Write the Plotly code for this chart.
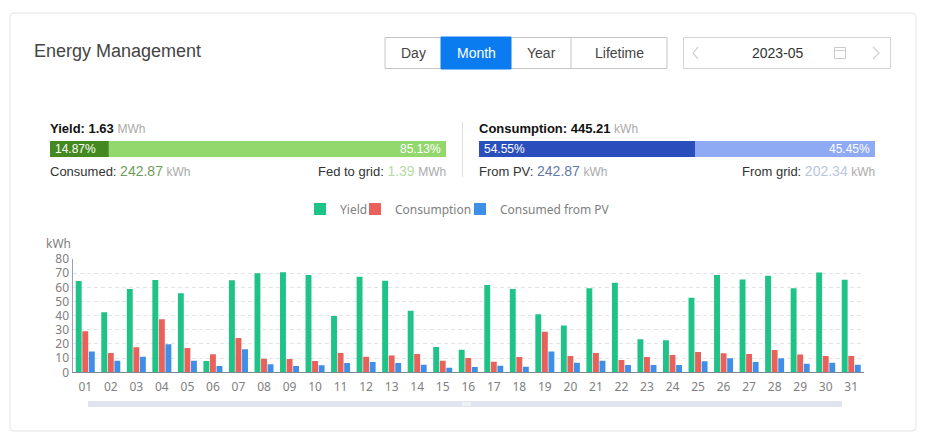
import plotly.graph_objects as go

W, H = 926, 446

days = [f"{d:02d}" for d in range(1, 32)]
yield_kwh = [64.5, 42.4, 58.8, 65.2, 55.8, 8.0, 65.0, 70.0, 70.6, 68.7, 39.8, 67.5, 64.7, 43.5, 17.9, 16.0,
             61.6, 58.8, 41.0, 33.0, 59.3, 63.3, 23.3, 22.6, 52.7, 68.7, 65.6, 68.2, 59.3, 70.4, 65.4]
consumption_kwh = [29.0, 13.6, 17.6, 37.4, 17.2, 12.7, 24.2, 9.6, 9.4, 8.0, 13.6, 11.0, 11.8, 12.9, 8.2, 10.1,
                   7.5, 10.8, 28.7, 11.5, 13.6, 8.7, 10.8, 12.2, 14.3, 13.4, 12.9, 15.8, 12.5, 11.5, 11.5]
consumed_pv_kwh = [14.6, 8.2, 11.0, 19.8, 8.2, 4.5, 16.2, 5.6, 4.5, 4.9, 6.6, 7.3, 6.6, 5.4, 3.3, 3.8,
                   4.7, 4.0, 14.6, 6.8, 8.2, 5.2, 5.2, 5.2, 7.8, 9.9, 7.3, 9.9, 6.1, 6.8, 5.4]
yield_shares = [14.87, 85.13]
consumption_shares = [54.55, 45.45]
buttons = ["Day", "Month", "Year", "Lifetime"]

FONT = "Liberation Sans"
CHART_FONT = "Noto Sans"


def px(x):
    return x / W


def py(y):
    return 1 - y / H


fig = go.Figure()

for name, vals, col, leg in [("Yield", yield_kwh, "#1fc287", "legend"),
                             ("Consumption", consumption_kwh, "#e8615a", "legend2"),
                             ("Consumed from PV", consumed_pv_kwh, "#3f8fe8", "legend3")]:
    fig.add_trace(go.Bar(x=days, y=vals, name=name, legend=leg, marker=dict(color=col, line_width=0)))


def share_bar(values, colors, xaxis, yaxis):
    base = 0
    for v, c in zip(values, colors):
        fig.add_trace(go.Bar(x=[v], y=[""], base=base, orientation="h", xaxis=xaxis, yaxis=yaxis,
                             marker=dict(color=c, line_width=0), width=1, offsetgroup="s",
                             showlegend=False, hoverinfo="skip"))
        base += v


share_bar(yield_shares, ["#43891f", "#93d86d"], "x2", "y2")
share_bar(consumption_shares, ["#2a4fbd", "#8faaf5"], "x3", "y3")

shapes = []
annots = []


def rect(x0, y0, x1, y1, fill="rgba(0,0,0,0)", line="#d4d4d4", lw=1, layer="below"):
    shapes.append(dict(type="rect", xref="paper", yref="paper", x0=px(x0), x1=px(x1), y0=py(y0), y1=py(y1),
                       fillcolor=fill, line=dict(color=line, width=lw), layer=layer))


def poly(pts, line="#d0d0d0", lw=1.2):
    d = "M" + " L".join(f"{px(a):.5f},{py(b):.5f}" for a, b in pts)
    shapes.append(dict(type="path", xref="paper", yref="paper", path=d, line=dict(color=line, width=lw)))


def text(x, y, s, size=12, color="#333333", anchor="left", family=FONT):
    annots.append(dict(xref="paper", yref="paper", x=px(x), y=py(y), text=s, showarrow=False, xanchor=anchor,
                       yanchor="middle", font=dict(size=size, color=color, family=family),
                       borderpad=0, borderwidth=0))


def unit(s):
    return f'<span style="font-size:12px;color:#aaaaaa">{s}</span>'


def val(s, color):
    return f'<span style="font-size:14px;color:{color}">{s}</span>'


# card
r = 4
x0, y0, x1, y1 = 10, 13, 916, 431
d = (f"M{px(x0 + r)},{py(y0)} L{px(x1 - r)},{py(y0)} Q{px(x1)},{py(y0)} {px(x1)},{py(y0 + r)} "
     f"L{px(x1)},{py(y1 - r)} Q{px(x1)},{py(y1)} {px(x1 - r)},{py(y1)} L{px(x0 + r)},{py(y1)} "
     f"Q{px(x0)},{py(y1)} {px(x0)},{py(y1 - r)} L{px(x0)},{py(y0 + r)} Q{px(x0)},{py(y0)} {px(x0 + r)},{py(y0)} Z")
shapes.append(dict(type="path", xref="paper", yref="paper", path=d, line=dict(color="#e3e3e3", width=1), layer="below"))

text(34, 51, "Energy Management", size=18, color="#444444")

# period buttons
edges = [385, 441, 511, 571, 667]
rect(385, 37.5, 667, 68.5, line="#c4c4c4")
for i, b in enumerate(buttons):
    active = b == "Month"
    if active:
        rect(edges[i], 37, edges[i + 1], 69, fill="#0a7cf0", line="#0a7cf0", layer="above")
    elif i == 3:
        poly([(edges[i], 37.5), (edges[i], 68.5)], line="#c4c4c4", lw=1)
    text((edges[i] + edges[i + 1]) / 2, 53.5, b, size=14, color="#ffffff" if active else "#444444", anchor="center")

# date picker
rect(683.5, 37.5, 890.5, 68.5, line="#d4d4d4")
poly([(698, 47), (693, 53), (698, 59)])
poly([(873, 47), (879, 53), (873, 59)])
rect(834.5, 47.5, 845.5, 58.5, line="#cccccc")
poly([(834.5, 50.5), (845.5, 50.5)], line="#cccccc", lw=1)
text(777.5, 53.5, "2023-05", size=14, color="#333333", anchor="center")

# share summaries
text(50, 128.5, f'<b>Yield: 1.63</b> {unit("MWh")}', size=13, color="#111111")
text(479, 128.5, f'<b>Consumption: 445.21</b> {unit("kWh")}', size=13, color="#111111")
text(55, 149, "14.87%", color="#ffffff")
text(441, 149, "85.13%", color="#ffffff", anchor="right")
text(484, 149, "54.55%", color="#ffffff")
text(870, 149, "45.45%", color="#ffffff", anchor="right")
text(50, 171, f'Consumed: {val("242.87", "#6f9b5a")} {unit("kWh")}', size=13)
text(446, 171, f'Fed to grid: {val("1.39", "#b5dba5")} {unit("MWh")}', size=13, anchor="right")
text(479, 171, f'From PV: {val("242.87", "#5f78a8")} {unit("kWh")}', size=13)
text(875, 171, f'From grid: {val("202.34", "#b9c5e2")} {unit("kWh")}', size=13, anchor="right")
poly([(462.5, 122), (462.5, 177)], line="#dddddd", lw=1)

# chart unit and data-zoom track
text(46, 243, "kWh", size=12, color="#808080", family=CHART_FONT)
rect(88, 401, 842, 407, fill="#dfe4ef", line="#dfe4ef", lw=0)
rect(462, 402, 471, 406, fill="#eef1f6", line="#eef1f6", lw=0, layer="above")

legend_font = dict(size=12, color="#808080", family=CHART_FONT)


def legend_at(x):
    return dict(orientation="h", xref="paper", yref="paper", x=px(x), xanchor="left", y=py(209),
                yanchor="middle", font=legend_font, itemclick=False, itemdoubleclick=False,
                bgcolor="rgba(0,0,0,0)")


fig.update_layout(
    width=W, height=H, margin=dict(l=0, r=0, t=0, b=0, autoexpand=False), paper_bgcolor="#ffffff", plot_bgcolor="#ffffff",
    barmode="group", bargap=0.23, bargroupgap=0.1, shapes=shapes, annotations=annots,
    font=dict(family=CHART_FONT, size=12, color="#808080"),
    legend=legend_at(300), legend2=legend_at(355), legend3=legend_at(460),
    xaxis=dict(domain=[px(72.5), px(864)], anchor="y", type="category", showgrid=False, showline=True, linecolor="#7f8a99",
               linewidth=1, ticks="", tickfont=dict(size=12, color="#808080", family=CHART_FONT), ticklabelstandoff=3,
               zeroline=False, automargin=False),
    yaxis=dict(domain=[py(372.3), py(259)], anchor="x", range=[0, 80], dtick=10, showgrid=True, gridcolor="#e2e4e9",
               griddash="4px,3px", gridwidth=1, showline=True, linecolor="#9aa3ad", linewidth=1, ticks="", zeroline=False,
               tickfont=dict(size=12, color="#808080", family=CHART_FONT), automargin=False),
    xaxis2=dict(domain=[px(50), px(446)], anchor="y2", range=[0, 100], visible=False, fixedrange=True),
    yaxis2=dict(domain=[py(157), py(141)], anchor="x2", visible=False, fixedrange=True),
    xaxis3=dict(domain=[px(479), px(875)], anchor="y3", range=[0, 100], visible=False, fixedrange=True),
    yaxis3=dict(domain=[py(157), py(141)], anchor="x3", visible=False, fixedrange=True),
    showlegend=True,
)

fig.write_html("out.html", config={"displayModeBar": False},
               post_script="document.body.style.margin='0';document.body.style.overflow='hidden';")
